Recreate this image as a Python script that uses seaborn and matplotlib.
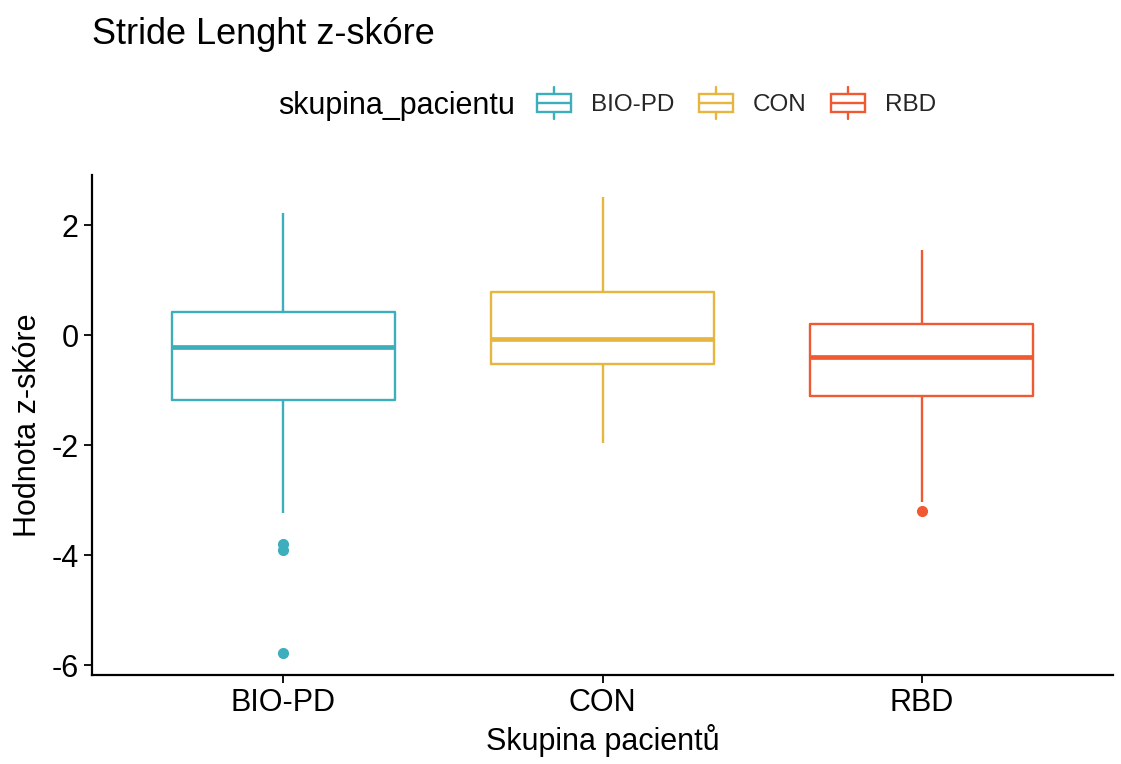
import numpy as np
import pandas as pd
import matplotlib
matplotlib.use("Agg")
import matplotlib.pyplot as plt
import seaborn as sns
from matplotlib.legend_handler import HandlerBase
from matplotlib.patches import Rectangle
from matplotlib.lines import Line2D

# values (z-scores per patient group)
groups = ["BIO-PD", "CON", "RBD"]
bio_pd = [-5.78, -3.90, -3.80, -3.24, -1.18, -0.95, -0.70, -0.45, -0.22,
          -0.05, 0.10, 0.25, 0.42, 0.80, 1.30, 1.75, 2.22]
con = [-1.96, -1.20, -0.80, -0.53, -0.40, -0.25, -0.08, 0.15, 0.45, 0.78,
       1.20, 1.80, 2.51]
rbd = [-3.20, -3.04, -1.80, -1.11, -0.90, -0.65, -0.40, -0.25, -0.05, 0.20,
       0.55, 1.00, 1.55]
colors = ["#3DAEBC", "#E6B63E", "#F05A32"]
yticks = [2, 0, -2, -4, -6]

df = pd.DataFrame({
    "skupina_pacientu": ["BIO-PD"] * len(bio_pd) + ["CON"] * len(con) + ["RBD"] * len(rbd),
    "z": bio_pd + con + rbd,
})

sns.set_theme(style="ticks")
plt.rcParams["font.family"] = ["Liberation Sans", "DejaVu Sans"]

fig = plt.figure(figsize=(11.21, 7.64), dpi=100)
ax = fig.add_axes([92 / 1121, 89 / 764, 1021 / 1121, 500 / 764])

palette = dict(zip(groups, colors))
sns.boxplot(
    data=df, x="skupina_pacientu", y="z", hue="skupina_pacientu",
    order=groups, palette=palette, fill=False, width=0.7, linewidth=1.7,
    showcaps=False, legend=False,
    medianprops={"linewidth": 3.4},
    flierprops={"marker": "o", "markersize": 7},
    ax=ax,
)

# make outliers solid dots like ggplot
for line in ax.lines:
    if line.get_marker() == "o":
        line.set_markerfacecolor(line.get_markeredgecolor())

ax.set_xlim(-0.6, 2.6)
ax.set_ylim(-6.18, 2.91)
ax.set_yticks(yticks)
ax.set_yticklabels([str(t) for t in yticks])
ax.set_xlabel("Skupina pacientů", fontsize=22, color="black")
ax.set_ylabel("Hodnota z-skóre", fontsize=22, color="black", labelpad=6)
ax.tick_params(axis="both", labelsize=22, colors="black", length=6, width=1.3)
for s in ["top", "right"]:
    ax.spines[s].set_visible(False)
for s in ["left", "bottom"]:
    ax.spines[s].set_linewidth(1.6)
    ax.spines[s].set_color("black")

fig.text(92 / 1121, 1 - 35 / 764, "Stride Lenght z-skóre", fontsize=26,
         ha="left", va="center", color="black")


class BoxHandler(HandlerBase):
    def create_artists(self, legend, orig_handle, xdescent, ydescent,
                       width, height, fontsize, trans):
        c = orig_handle.get_edgecolor()
        x0, y0 = -xdescent, -ydescent
        lw = 1.7
        rect = Rectangle((x0, y0), width, height, fill=False, edgecolor=c,
                         lw=lw, transform=trans)
        mid = Line2D([x0, x0 + width], [y0 + height / 2] * 2, color=c, lw=lw,
                     transform=trans)
        top = Line2D([x0 + width / 2] * 2, [y0 + height, y0 + height * 1.4],
                     color=c, lw=lw, transform=trans)
        bot = Line2D([x0 + width / 2] * 2, [y0, y0 - height * 0.4],
                     color=c, lw=lw, transform=trans)
        return [rect, mid, top, bot]


handles = [Rectangle((0, 0), 1, 1, fill=False, edgecolor=c) for c in colors]
fig.text(278 / 1121, 1 - 106 / 764, "skupina_pacientu", fontsize=22,
         ha="left", va="center", color="black")
fig.legend(handles, groups, handler_map={Rectangle: BoxHandler()},
           loc="center left", bbox_to_anchor=(537 / 1121, 1 - 105 / 764),
           ncol=3, frameon=False, fontsize=17.5, handlelength=1.4,
           handleheight=0.75, handletextpad=0.82, columnspacing=1.0,
           borderpad=0, borderaxespad=0)

fig.savefig("out.png", dpi=100)
